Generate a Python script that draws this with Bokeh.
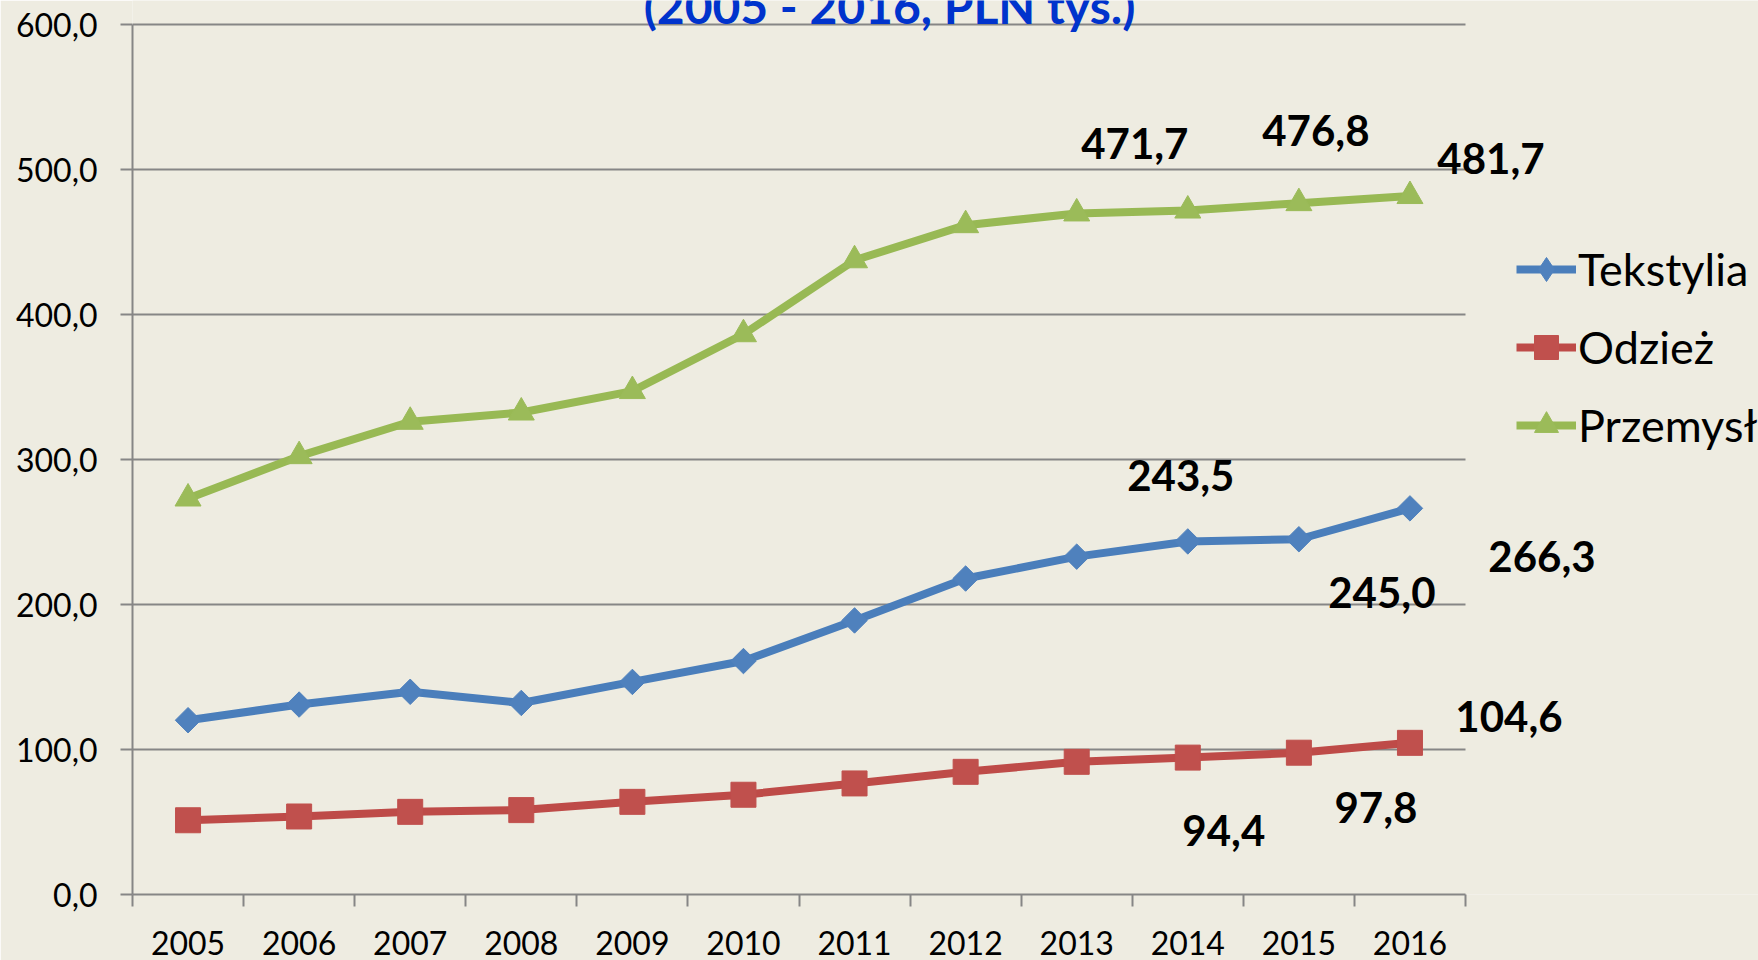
import numpy as np
from bokeh.plotting import figure
from bokeh.models import (ColumnDataSource, FixedTicker, Legend, LegendItem,
                          Label, Range1d)
from bokeh.embed import file_html
from bokeh.resources import INLINE

# ---------------- data ----------------
years = [2005, 2006, 2007, 2008, 2009, 2010, 2011, 2012, 2013, 2014, 2015, 2016]
tekstylia = [120.2, 131.0, 139.8, 132.1, 146.6, 161.0, 189.0, 217.9, 233.0, 243.5, 245.0, 266.3]
odziez = [51.2, 53.8, 57.0, 58.2, 63.9, 68.8, 76.6, 84.6, 91.5, 94.4, 97.8, 104.6]
przemysl = [273.1, 302.3, 326.0, 332.4, 347.2, 386.4, 437.4, 461.6, 469.7, 471.7, 476.8, 481.7]
series_names = ["Tekstylia", "Odzież", "Przemysł"]
y_ticks = [0, 100, 200, 300, 400, 500, 600]
y_tick_labels = ["0,0", "100,0", "200,0", "300,0", "400,0", "500,0", "600,0"]
year_labels = [str(y) for y in years]
labelled_years = [2014, 2015, 2016]
title_text = "(2005 - 2016, PLN tys.)"

# ---------------- style / layout ----------------
BG = "#EEECE1"
GRID = "#868686"
FONT = "Lato"
line_colors = ["#4A7EBB", "#BE4B48", "#98B954"]
marker_colors = ["#4F81BD", "#C0504D", "#9BBB59"]
# pixel offsets of the data labels from their points (x right, y up)
label_offsets = {
    "Tekstylia": [(-7, 66), (83, -53), (132, -48)],
    "Odzież": [(36, -73), (77, -55), (99, 26)],
    "Przemysł": [(-53, 67), (17, 73), (81, 38)],
}

W, H = 1758, 960
LB, TOP_GAP, BB = 132, 24, 66
PLOT_W, PLOT_H = 1333, 870         # size of the drawn axis area in px
x_lo, x_hi = years[0] - 0.5, years[-1] + 0.5
y_lo, y_hi = y_ticks[0], y_ticks[-1]
px_per_year = PLOT_W / (x_hi - x_lo)
px_per_unit = PLOT_H / (y_hi - y_lo)
# the frame runs to the right and top edges so that labels, legend and the
# title placed there are not clipped; axes and grid are bounded to the data area
x_end = x_lo + (W - LB) / px_per_year
y_end = y_hi + TOP_GAP / px_per_unit

p = figure(width=W, height=H, output_backend="svg", toolbar_location=None,
           x_range=Range1d(x_lo, x_end),
           y_range=Range1d(y_lo, y_end),
           min_border_left=LB, min_border_right=0,
           min_border_top=0, min_border_bottom=BB)
p.background_fill_color = BG
p.border_fill_color = BG
p.outline_line_color = None
p.xgrid.grid_line_color = None
p.ygrid.grid_line_color = None

# horizontal gridlines limited to the axis area
gl = y_ticks[1:]
p.segment(x0=[x_lo] * len(gl), x1=[x_hi] * len(gl), y0=gl, y1=gl,
          line_color=GRID, line_width=2)

# y axis
yax = p.yaxis[0]
yax.ticker = FixedTicker(ticks=y_ticks, minor_ticks=[])
yax.bounds = (y_lo, y_hi)
yax.major_label_overrides = {t: l for t, l in zip(y_ticks, y_tick_labels)}
yax.axis_line_color = GRID
yax.axis_line_width = 2
yax.major_tick_line_color = GRID
yax.major_tick_line_width = 2
yax.major_tick_out = 12
yax.major_tick_in = 0
yax.minor_tick_line_color = None
yax.major_label_text_font = FONT
yax.major_label_text_font_size = "32px"
yax.major_label_text_color = "black"
yax.major_label_standoff = 23

# x axis: labels at the year centres, tick marks between categories
xax = p.xaxis[0]
bounds = [x_lo + i for i in range(len(years) + 1)]
xax.ticker = FixedTicker(ticks=years, minor_ticks=bounds)
xax.bounds = (x_lo, x_hi)
xax.major_label_overrides = {y: l for y, l in zip(years, year_labels)}
xax.axis_line_color = GRID
xax.axis_line_width = 2
xax.major_tick_line_color = None
xax.major_tick_out = 0
xax.major_tick_in = 0
xax.minor_tick_line_color = GRID
xax.minor_tick_line_width = 2
xax.minor_tick_out = 12
xax.minor_tick_in = 0
xax.major_label_text_font = FONT
xax.major_label_text_font_size = "32px"
xax.major_label_text_color = "black"
xax.major_label_standoff = 24

series_vals = [tekstylia, odziez, przemysl]
markers = ["square", "square", "triangle"]
angles = [np.pi / 4, 0, 0]
sizes = [18, 25, 26]
legend_markers = ["diamond", "square", "triangle"]
items = []
for name, vals, lc, mc, mk, ang, sz, lmk in zip(series_names, series_vals, line_colors,
                                                 marker_colors, markers, angles, sizes,
                                                 legend_markers):
    src = ColumnDataSource(dict(x=years, y=vals))
    lr = p.line("x", "y", source=src, line_color=lc, line_width=8, line_join="round")
    p.scatter("x", "y", source=src, marker=mk, angle=ang, size=sz,
              fill_color=mc, line_color=mc)
    # legend-only marker (no visible point)
    leg_r = p.scatter(x=np.array([np.nan]), y=np.array([np.nan]), marker=lmk,
                      fill_color=mc, line_color=mc)
    items.append(LegendItem(label=name, renderers=[lr, leg_r]))

    for yr, (ox, oy) in zip(labelled_years, label_offsets[name]):
        v = vals[years.index(yr)]
        p.add_layout(Label(x=yr, y=v, x_offset=ox, y_offset=oy,
                           text=f"{v:.1f}".replace(".", ","),
                           text_align="center", text_baseline="middle",
                           text_font=FONT, text_font_style="bold",
                           text_font_size="42px", text_color="black"))

legend = Legend(items=items, location=(1384, 438))
legend.glyph_width = 60
legend.glyph_height = 62
legend.label_height = 62
legend.spacing = 16
legend.padding = 0
legend.margin = 0
legend.label_standoff = 2
legend.border_line_color = None
legend.background_fill_alpha = 0
legend.label_text_font = FONT
legend.label_text_font_size = "45px"
legend.label_text_color = "black"
p.add_layout(legend)

# title line, partly above the top edge as in the original picture
p.add_layout(Label(x=757, y=889, x_units="screen", y_units="screen",
                   text=title_text, text_align="center", text_baseline="alphabetic",
                   text_font=FONT, text_font_style="bold", text_font_size="48px",
                   text_color="#0033CC"))

open("out.html", "w").write(file_html(p, INLINE))
